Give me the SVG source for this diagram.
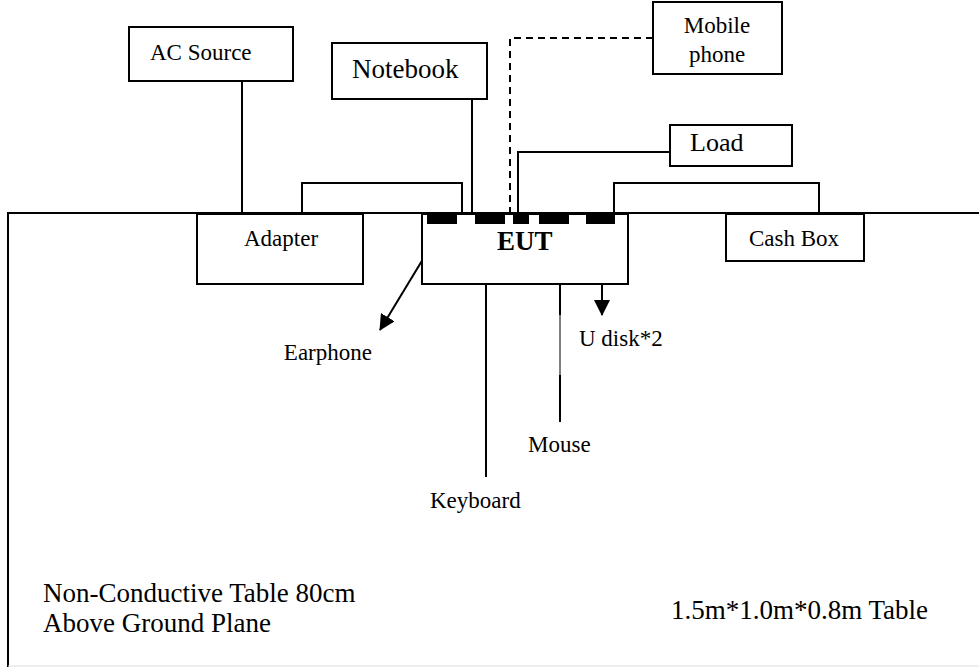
<svg xmlns="http://www.w3.org/2000/svg" width="979" height="667" viewBox="0 0 979 667">
<style>
.box{fill:#fff;stroke:#000;stroke-width:2}
.ln{fill:none;stroke:#000;stroke-width:2}
.dash{fill:none;stroke:#000;stroke-width:2;stroke-dasharray:7 5}
.t{font-family:"Liberation Serif","Times New Roman",serif;font-size:23px;fill:#000}
.big{font-size:27px}
.port{fill:#000}
</style>
<defs>
<marker id="arr" markerUnits="userSpaceOnUse" markerWidth="16" markerHeight="16" viewBox="0 0 16 16" refX="15" refY="8" orient="auto">
<path d="M0,0 L16,8 L0,16 Z" fill="#000"/>
</marker>
</defs>
<rect width="979" height="667" fill="#fff"/>
<g id="table">
<line class="ln" x1="8" y1="213" x2="979" y2="213"/>
<line class="ln" x1="8" y1="212" x2="8" y2="667"/>
<line x1="8" y1="666" x2="979" y2="666" stroke="#ddd" stroke-width="1"/>
<text class="t big" x="43" y="602">Non-Conductive Table 80cm</text>
<text class="t big" x="43" y="632">Above Ground Plane</text>
<text class="t big" x="671" y="619">1.5m*1.0m*0.8m Table</text>
</g>
<g id="connectors">
<line class="ln" x1="242" y1="81" x2="242" y2="213"/>
<line class="ln" x1="472" y1="99" x2="472" y2="213"/>
<polyline class="ln" points="302,213 302,183 462,183 462,213"/>
<polyline class="dash" points="653,38 510,38 510,213"/>
<polyline class="ln" points="670,152 518,152 518,213"/>
<polyline class="ln" points="614,213 614,183 819,183 819,213"/>
<line class="ln" x1="440" y1="231" x2="380" y2="330" marker-end="url(#arr)"/>
<line class="ln" x1="486" y1="231" x2="486" y2="477"/>
<line class="ln" x1="560" y1="227" x2="560" y2="315"/>
<line stroke="#000" stroke-width="1" x1="560" y1="315" x2="560" y2="375"/>
<line class="ln" x1="560" y1="375" x2="560" y2="422"/>
<line class="ln" x1="602" y1="227" x2="602" y2="315" marker-end="url(#arr)"/>
</g>
<g id="ac-source">
<rect class="box" x="129" y="27" width="164" height="54"/>
<text class="t" x="150" y="60">AC Source</text>
</g>
<g id="notebook">
<rect class="box" x="332" y="43" width="155" height="56"/>
<text class="t big" x="352" y="78">Notebook</text>
</g>
<g id="mobile-phone">
<rect class="box" x="653" y="2" width="129" height="72"/>
<text class="t" x="717" y="33" text-anchor="middle">Mobile</text>
<text class="t" x="717" y="62" text-anchor="middle">phone</text>
</g>
<g id="load">
<rect class="box" x="670" y="125" width="122" height="41"/>
<text class="t" x="690" y="151" style="font-size:26px">Load</text>
</g>
<g id="adapter">
<rect class="box" x="197" y="214" width="166" height="70"/>
<text class="t" x="244" y="246">Adapter</text>
</g>
<g id="cash-box">
<rect class="box" x="726" y="214" width="138" height="47"/>
<text class="t" x="749" y="246">Cash Box</text>
</g>
<g id="eut">
<rect class="box" x="422" y="214" width="206" height="70"/>
<rect class="port" x="427" y="213" width="30" height="11"/>
<rect class="port" x="475" y="213" width="30" height="11"/>
<rect class="port" x="513" y="213" width="16" height="11"/>
<rect class="port" x="539" y="213" width="30" height="11"/>
<rect class="port" x="586" y="213" width="29" height="11"/>
<text class="t big" x="497" y="250" font-weight="bold">EUT</text>
</g>
<g id="labels">
<text class="t" x="372" y="360" text-anchor="end">Earphone</text>
<text class="t" x="430" y="508">Keyboard</text>
<text class="t" x="528" y="452">Mouse</text>
<text class="t" x="579" y="346">U disk*2</text>
</g>
</svg>
